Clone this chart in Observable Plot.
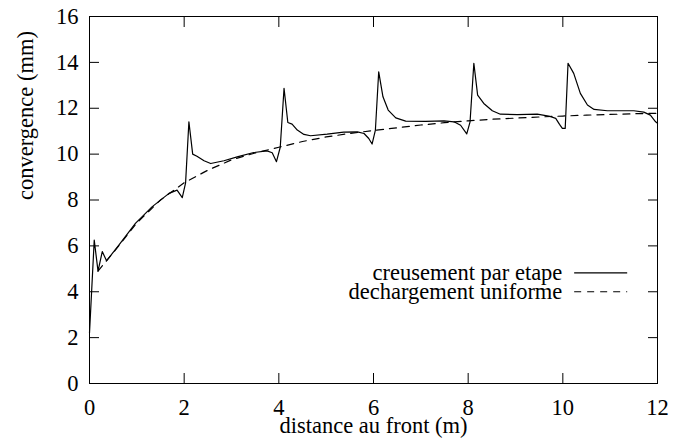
<!DOCTYPE html>
<html>
<head>
<meta charset="utf-8">
<script src="https://cdn.jsdelivr.net/npm/d3@7"></script>
<script src="https://cdn.jsdelivr.net/npm/@observablehq/plot@0.6"></script>
<style>
  html, body { margin: 0; padding: 0; background: #fff; }
  svg { display: block; }
  svg, svg text { font-family: 'Liberation Serif', 'Times New Roman', serif !important; }
</style>
</head>
<body>
<div id="chart"></div>
<script>
// creusement par etape (solid)
const etapeX = [0, 0.1, 0.18, 0.27, 0.36, 0.62, 0.97, 1.32, 1.68, 1.85, 1.96, 2.03, 2.10, 2.18, 2.27, 2.42, 2.56, 2.84, 3.12, 3.47, 3.75, 3.86, 3.95, 4.03, 4.11, 4.19, 4.28, 4.39, 4.53, 4.67, 5.02, 5.37, 5.66, 5.80, 5.90, 5.97, 6.04, 6.11, 6.20, 6.31, 6.47, 6.68, 7.10, 7.49, 7.70, 7.84, 7.97, 8.04, 8.12, 8.20, 8.33, 8.51, 8.68, 9.04, 9.46, 9.70, 9.85, 9.93, 9.99, 10.05, 10.11, 10.23, 10.37, 10.52, 10.66, 10.94, 11.50, 11.71, 11.85, 11.96, 12.0];
const etapeY = [2.2, 6.25, 4.9, 5.75, 5.35, 6.03, 6.98, 7.70, 8.29, 8.43, 8.10, 8.75, 11.41, 10.0, 9.91, 9.71, 9.59, 9.71, 9.88, 10.07, 10.14, 10.06, 9.67, 10.30, 12.87, 11.38, 11.31, 11.05, 10.86, 10.80, 10.87, 10.96, 10.97, 10.90, 10.68, 10.44, 11.05, 13.59, 12.50, 11.92, 11.58, 11.44, 11.43, 11.45, 11.41, 11.26, 10.88, 11.41, 13.96, 12.57, 12.21, 11.89, 11.74, 11.72, 11.74, 11.66, 11.56, 11.30, 11.12, 11.12, 13.96, 13.52, 12.65, 12.14, 11.95, 11.89, 11.89, 11.83, 11.70, 11.41, 11.35];

// dechargement uniforme (dashed)
const uniformeX = [0.18, 0.37, 0.5, 1.0, 1.5, 2.0, 2.5, 3.0, 3.5, 4.0, 4.5, 5.0, 5.5, 6.0, 6.5, 7.0, 7.5, 8.0, 8.5, 9.0, 9.5, 10.0, 10.5, 11.0, 11.5, 12.0];
const uniformeY = [4.9, 5.38, 5.7, 7.0, 8.0, 8.75, 9.3, 9.75, 10.05, 10.3, 10.55, 10.75, 10.9, 11.03, 11.15, 11.27, 11.37, 11.45, 11.52, 11.57, 11.62, 11.66, 11.70, 11.73, 11.76, 11.78];

const xTicks = [0, 2, 4, 6, 8, 10, 12];
const yTicks = [0, 2, 4, 6, 8, 10, 12, 14, 16];
const xLabel = "distance au front (m)";
const yLabel = "convergence (mm)";
const seriesNames = ["creusement par etape", "dechargement uniforme"];

const etape = etapeX.map((x, i) => ({x, y: etapeY[i]}));
const uniforme = uniformeX.map((x, i) => ({x, y: uniformeY[i]}));

const FONT = "Liberation Serif";
const FS = 22.5;

const legendRows = [
  {name: seriesNames[0], y: 4.82, dash: null},
  {name: seriesNames[1], y: 4.0, dash: "7,6"}
];

const chart = Plot.plot({
  width: 674,
  height: 444,
  marginLeft: 89,
  marginRight: 17,
  marginTop: 16,
  marginBottom: 61,
  style: {fontFamily: FONT, fontSize: FS + "px", color: "#000", background: "#fff"},
  x: {domain: [0, 12]},
  y: {domain: [0, 16]},
  marks: [
    Plot.frame({stroke: "#000", strokeWidth: 1}),
    Plot.axisX(xTicks, {anchor: "bottom", tickSize: -10, tickPadding: 26, label: null, fontSize: FS, fontFamily: FONT}),
    Plot.axisX(xTicks, {anchor: "top", tickSize: -10, tickFormat: () => "", label: null}),
    Plot.axisY(yTicks, {anchor: "left", tickSize: -10, tickPadding: 21, label: null, fontSize: FS, fontFamily: FONT}),
    Plot.axisY(yTicks, {anchor: "right", tickSize: -10, tickFormat: () => "", label: null}),
    Plot.text([xLabel], {text: d => d, frameAnchor: "bottom", dy: 49, fontSize: FS, fontFamily: FONT, fill: "#000"}),
    Plot.text([yLabel], {text: d => d, frameAnchor: "left", rotate: -90, dx: -64, fontSize: FS, fontFamily: FONT, fill: "#000"}),
    Plot.line(etape, {x: "x", y: "y", stroke: "#000", strokeWidth: 1.2}),
    Plot.line(uniforme, {x: "x", y: "y", stroke: "#000", strokeWidth: 1.2, strokeDasharray: "7,6"}),
    Plot.text(legendRows, {x: 9.99, y: "y", text: "name", textAnchor: "end", lineAnchor: "middle", fontSize: FS, fontFamily: FONT, fill: "#000"}),
    Plot.ruleY(legendRows.filter(d => !d.dash), {y: "y", x1: 10.25, x2: 11.37, stroke: "#000", strokeWidth: 1.2}),
    Plot.ruleY(legendRows.filter(d => d.dash), {y: "y", x1: 10.25, x2: 11.37, stroke: "#000", strokeWidth: 1.2, strokeDasharray: "7,6"})
  ]
});
document.getElementById("chart").appendChild(chart);
</script>
</body>
</html>
